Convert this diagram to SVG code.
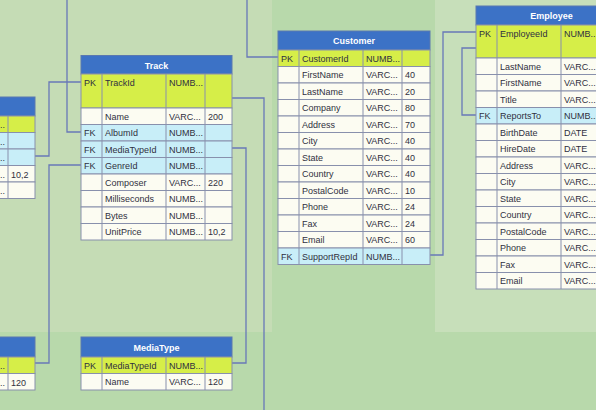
<svg xmlns="http://www.w3.org/2000/svg" width="596" height="410" viewBox="0 0 596 410">
<style>
text{font-family:"Liberation Sans",Arial,sans-serif;font-size:9px;fill:#303040}
.h{fill:#3c72c6;stroke:#5a78b0;stroke-width:1}
.ht{fill:#ffffff;font-weight:bold;text-anchor:middle}
.pk{fill:#d6ee48;stroke:#8890ac;stroke-width:1}
.fk{fill:#c8eef8;stroke:#8890ac;stroke-width:1}
.r{fill:#fcfcf2;stroke:#8890ac;stroke-width:1}
.v{stroke:#8890ac;stroke-width:1}
.c{fill:none;stroke:#6878b8;stroke-width:1.3}
</style>
<rect x="0" y="0" width="596" height="410" fill="#b8d9ab"/>
<rect x="0" y="0" width="272" height="332" fill="#c5dcb5"/>
<rect x="435" y="0" width="161" height="332" fill="#c7dfba"/>

<g id="connectors">
<path class="c" d="M67,0 V132 H81"/>
<path class="c" d="M35,156 H49 V82 H81"/>
<path class="c" d="M35,363 H49 V165 H81"/>
<path class="c" d="M232,363 H246 V148 H232"/>
<path class="c" d="M232,98 H264 V410"/>
<path class="c" d="M247,0 V57 H278"/>
<path class="c" d="M476,32 H443 V255 H430"/>
<path class="c" d="M476,48 H462 V115 H476"/>
</g>

<g id="InvoiceLine">
<rect class="h" x="-116" y="97" width="151" height="19"/>
<rect class="pk" x="-116" y="116" width="151" height="16.5"/>
<rect class="fk" x="-116" y="132.5" width="151" height="16.5"/>
<rect class="fk" x="-116" y="149" width="151" height="16.5"/>
<rect class="r" x="-116" y="165.5" width="151" height="16.5"/>
<rect class="r" x="-116" y="182" width="151" height="16.5"/>
<line class="v" x1="8" y1="116" x2="8" y2="198.5"/>
<text x="0" y="128">..</text>
<text x="0" y="144.5">..</text>
<text x="0" y="161">..</text>
<text x="0" y="177.5">..</text>
<text x="11" y="177.5">10,2</text>
<text x="0" y="194">..</text>
</g>

<g id="Genre">
<rect class="h" x="-116" y="337" width="151" height="20"/>
<rect class="pk" x="-116" y="357" width="151" height="16.5"/>
<rect class="r" x="-116" y="373.5" width="151" height="16.5"/>
<line class="v" x1="8" y1="357" x2="8" y2="390"/>
<text x="0" y="369">..</text>
<text x="0" y="385.5">..</text>
<text x="11" y="385.5">120</text>
</g>

<g id="Track">
<rect class="h" x="81" y="55.5" width="151" height="18.5"/>
<text class="ht" x="156.5" y="68.5">Track</text>
<rect class="pk" x="81" y="74" width="151" height="34"/>
<rect class="r" x="81" y="108" width="151" height="16.5"/>
<rect class="fk" x="81" y="124.5" width="151" height="16.5"/>
<rect class="fk" x="81" y="141" width="151" height="16.5"/>
<rect class="fk" x="81" y="157.5" width="151" height="16.5"/>
<rect class="r" x="81" y="174" width="151" height="16.5"/>
<rect class="r" x="81" y="190.5" width="151" height="16.5"/>
<rect class="r" x="81" y="207" width="151" height="16.5"/>
<rect class="r" x="81" y="223.5" width="151" height="16.5"/>
<line class="v" x1="102" y1="74" x2="102" y2="240"/>
<line class="v" x1="166" y1="74" x2="166" y2="240"/>
<line class="v" x1="205" y1="74" x2="205" y2="240"/>
<text x="84" y="86">PK</text><text x="105" y="86">TrackId</text><text x="169" y="86">NUMB...</text>
<text x="105" y="119.7">Name</text><text x="169" y="119.7">VARC...</text><text x="208" y="119.7">200</text>
<text x="84" y="136.2">FK</text><text x="105" y="136.2">AlbumId</text><text x="169" y="136.2">NUMB...</text>
<text x="84" y="152.7">FK</text><text x="105" y="152.7">MediaTypeId</text><text x="169" y="152.7">NUMB...</text>
<text x="84" y="169.2">FK</text><text x="105" y="169.2">GenreId</text><text x="169" y="169.2">NUMB...</text>
<text x="105" y="185.7">Composer</text><text x="169" y="185.7">VARC...</text><text x="208" y="185.7">220</text>
<text x="105" y="202.2">Milliseconds</text><text x="169" y="202.2">NUMB...</text>
<text x="105" y="218.7">Bytes</text><text x="169" y="218.7">NUMB...</text>
<text x="105" y="235.2">UnitPrice</text><text x="169" y="235.2">NUMB...</text><text x="208" y="235.2">10,2</text>
</g>

<g id="MediaType">
<rect class="h" x="81" y="337" width="151" height="20"/>
<text class="ht" x="156.5" y="350.5">MediaType</text>
<rect class="pk" x="81" y="357" width="151" height="16.5"/>
<rect class="r" x="81" y="373.5" width="151" height="16.5"/>
<line class="v" x1="102" y1="357" x2="102" y2="390"/>
<line class="v" x1="166" y1="357" x2="166" y2="390"/>
<line class="v" x1="205" y1="357" x2="205" y2="390"/>
<text x="84" y="368.7">PK</text><text x="105" y="368.7">MediaTypeId</text><text x="169" y="368.7">NUMB...</text>
<text x="105" y="385.2">Name</text><text x="169" y="385.2">VARC...</text><text x="208" y="385.2">120</text>
</g>

<g id="Customer">
<rect class="h" x="278" y="31" width="152" height="19"/>
<text class="ht" x="354" y="44">Customer</text>
<rect class="pk" x="278" y="50" width="152" height="16.5"/>
<rect class="r" x="278" y="66.5" width="152" height="16.5"/>
<rect class="r" x="278" y="83" width="152" height="16.5"/>
<rect class="r" x="278" y="99.5" width="152" height="16.5"/>
<rect class="r" x="278" y="116" width="152" height="16.5"/>
<rect class="r" x="278" y="132.5" width="152" height="16.5"/>
<rect class="r" x="278" y="149" width="152" height="16.5"/>
<rect class="r" x="278" y="165.5" width="152" height="16.5"/>
<rect class="r" x="278" y="182" width="152" height="16.5"/>
<rect class="r" x="278" y="198.5" width="152" height="16.5"/>
<rect class="r" x="278" y="215" width="152" height="16.5"/>
<rect class="r" x="278" y="231.5" width="152" height="16.5"/>
<rect class="fk" x="278" y="248" width="152" height="16.5"/>
<line class="v" x1="299" y1="50" x2="299" y2="264.5"/>
<line class="v" x1="363" y1="50" x2="363" y2="264.5"/>
<line class="v" x1="402" y1="50" x2="402" y2="264.5"/>
<text x="281" y="61.7">PK</text><text x="302" y="61.7">CustomerId</text><text x="366" y="61.7">NUMB...</text>
<text x="302" y="78.2">FirstName</text><text x="366" y="78.2">VARC...</text><text x="405" y="78.2">40</text>
<text x="302" y="94.7">LastName</text><text x="366" y="94.7">VARC...</text><text x="405" y="94.7">20</text>
<text x="302" y="111.2">Company</text><text x="366" y="111.2">VARC...</text><text x="405" y="111.2">80</text>
<text x="302" y="127.7">Address</text><text x="366" y="127.7">VARC...</text><text x="405" y="127.7">70</text>
<text x="302" y="144.2">City</text><text x="366" y="144.2">VARC...</text><text x="405" y="144.2">40</text>
<text x="302" y="160.7">State</text><text x="366" y="160.7">VARC...</text><text x="405" y="160.7">40</text>
<text x="302" y="177.2">Country</text><text x="366" y="177.2">VARC...</text><text x="405" y="177.2">40</text>
<text x="302" y="193.7">PostalCode</text><text x="366" y="193.7">VARC...</text><text x="405" y="193.7">10</text>
<text x="302" y="210.2">Phone</text><text x="366" y="210.2">VARC...</text><text x="405" y="210.2">24</text>
<text x="302" y="226.7">Fax</text><text x="366" y="226.7">VARC...</text><text x="405" y="226.7">24</text>
<text x="302" y="243.2">Email</text><text x="366" y="243.2">VARC...</text><text x="405" y="243.2">60</text>
<text x="281" y="259.7">FK</text><text x="302" y="259.7">SupportRepId</text><text x="366" y="259.7">NUMB...</text>
</g>

<g id="Employee">
<rect class="h" x="476" y="6" width="151" height="19"/>
<text class="ht" x="551.5" y="19">Employee</text>
<rect class="pk" x="476" y="25" width="151" height="33"/>
<rect class="r" x="476" y="58" width="151" height="16.5"/>
<rect class="r" x="476" y="74.5" width="151" height="16.5"/>
<rect class="r" x="476" y="91" width="151" height="16.5"/>
<rect class="fk" x="476" y="107.5" width="151" height="16.5"/>
<rect class="r" x="476" y="124" width="151" height="16.5"/>
<rect class="r" x="476" y="140.5" width="151" height="16.5"/>
<rect class="r" x="476" y="157" width="151" height="16.5"/>
<rect class="r" x="476" y="173.5" width="151" height="16.5"/>
<rect class="r" x="476" y="190" width="151" height="16.5"/>
<rect class="r" x="476" y="206.5" width="151" height="16.5"/>
<rect class="r" x="476" y="223" width="151" height="16.5"/>
<rect class="r" x="476" y="239.5" width="151" height="16.5"/>
<rect class="r" x="476" y="256" width="151" height="16.5"/>
<rect class="r" x="476" y="272.5" width="151" height="16.5"/>
<line class="v" x1="497" y1="25" x2="497" y2="289"/>
<line class="v" x1="561" y1="25" x2="561" y2="289"/>
<text x="479" y="37">PK</text><text x="500" y="37">EmployeeId</text><text x="564" y="37">NUMB...</text>
<text x="500" y="69.7">LastName</text><text x="564" y="69.7">VARC...</text>
<text x="500" y="86.2">FirstName</text><text x="564" y="86.2">VARC...</text>
<text x="500" y="102.7">Title</text><text x="564" y="102.7">VARC...</text>
<text x="479" y="119.2">FK</text><text x="500" y="119.2">ReportsTo</text><text x="564" y="119.2">NUMB...</text>
<text x="500" y="135.7">BirthDate</text><text x="564" y="135.7">DATE</text>
<text x="500" y="152.2">HireDate</text><text x="564" y="152.2">DATE</text>
<text x="500" y="168.7">Address</text><text x="564" y="168.7">VARC...</text>
<text x="500" y="185.2">City</text><text x="564" y="185.2">VARC...</text>
<text x="500" y="201.7">State</text><text x="564" y="201.7">VARC...</text>
<text x="500" y="218.2">Country</text><text x="564" y="218.2">VARC...</text>
<text x="500" y="234.7">PostalCode</text><text x="564" y="234.7">VARC...</text>
<text x="500" y="251.2">Phone</text><text x="564" y="251.2">VARC...</text>
<text x="500" y="267.7">Fax</text><text x="564" y="267.7">VARC...</text>
<text x="500" y="284.2">Email</text><text x="564" y="284.2">VARC...</text>
</g>
</svg>
